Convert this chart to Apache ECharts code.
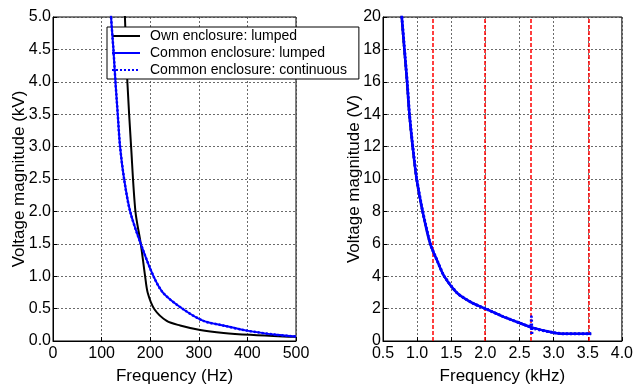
<!DOCTYPE html>
<html>
<head>
<meta charset="utf-8">
<script src="https://cdn.jsdelivr.net/npm/echarts@6/dist/echarts.min.js"></script>
<style>
  html, body { margin:0; padding:0; background:#fff; }
  #chart { width:636px; height:390px; }
</style>
</head>
<body>
<div id="chart"></div>
<script>
// ---- data ----
// left panel: frequency in Hz, voltage in kV
const ownFreq = [146, 148, 153, 160.7, 169.6, 180.6, 189.5, 195, 208.7, 234, 261.6, 302.8, 351, 406, 474, 500];
const ownVolt = [5.3, 5.0, 4.0, 3.0, 2.0, 1.5, 1.0, 0.74, 0.49, 0.31, 0.24, 0.17, 0.125, 0.095, 0.07, 0.065];
const comFreq = [118, 119.5, 124.3, 128.5, 133.2, 138, 146.3, 158.7, 180.6, 206.7, 227, 268, 309.6, 350, 398.8, 460, 500];
const comVolt = [5.3, 5.0, 4.5, 4.0, 3.5, 3.0, 2.5, 2.0, 1.5, 1.0, 0.74, 0.49, 0.31, 0.24, 0.16, 0.095, 0.07];

// right panel: frequency in kHz, voltage in V
const rOwnFreq = [0.755, 0.772, 0.81, 0.85, 0.884, 0.932, 0.99, 1.078, 1.19, 1.30, 1.396, 1.589, 1.807, 2.025, 2.243, 2.485, 2.678, 2.969, 3.163, 3.55];
const rOwnVolt = [21, 20, 18, 16, 14, 12, 10, 8, 6, 4.9, 4, 2.95, 2.35, 1.95, 1.54, 1.14, 0.84, 0.54, 0.44, 0.44];
const rComFreq = [0.76, 0.776, 0.815, 0.854, 0.888, 0.936, 0.994, 1.081, 1.193, 1.30, 1.396, 1.589, 1.807, 2.025, 2.243, 2.485, 2.678, 2.969, 3.163, 3.55];
const rComVolt = [21, 20, 18, 16, 14, 12, 10, 8, 6, 4.9, 4, 2.95, 2.35, 1.95, 1.54, 1.14, 0.84, 0.54, 0.44, 0.44];
const rContFreq = [0.76, 0.776, 0.815, 0.854, 0.888, 0.936, 0.994, 1.081, 1.193, 1.30, 1.396, 1.589, 1.807, 2.025, 2.243, 2.485, 2.66, 2.675, 2.68, 2.69, 2.72, 2.969, 3.163, 3.55];
const rContVolt = [21, 20, 18, 16, 14, 12, 10, 8, 6, 4.9, 4, 2.95, 2.35, 1.95, 1.54, 1.14, 0.88, 1.5, 0.38, 0.8, 0.76, 0.54, 0.44, 0.44];
const redLines = [1.23, 1.99, 2.67, 3.52];

const legendNames = ['Own enclosure: lumped', 'Common enclosure: lumped', 'Common enclosure: continuous'];

function zip(xs, ys){ return xs.map((x, i) => [x, ys[i]]); }

const FONT = '"Liberation Sans", Arial, sans-serif';
const gridLine = { show:true, lineStyle:{ color:'#444', type:[2,2], width:0.8 } };
const axisBase = {
  axisLine:{ show:true, onZero:false, lineStyle:{ color:'#000', width:1 } },
  axisTick:{ show:true, inside:true, length:4, lineStyle:{ color:'#000' } },
  axisLabel:{ color:'#000', fontSize:16, fontFamily:FONT, margin:5 },
  splitLine: gridLine,
  nameTextStyle:{ color:'#000', fontSize:17, fontFamily:FONT },
  nameLocation:'middle',
  nameMoveOverlap:false
};
function lbl(extra){ return Object.assign({}, axisBase.axisLabel, extra); }

const chart = echarts.init(document.getElementById('chart'), null, { renderer:'canvas' });

chart.setOption({
  animation:false,
  textStyle:{ fontFamily:FONT },
  grid:[
    { left:53, top:17, width:243, height:332, show:true, borderColor:'#000', borderWidth:1, backgroundColor:'transparent' },
    { left:383, top:17, width:241, height:332, show:true, borderColor:'#000', borderWidth:1, backgroundColor:'transparent' }
  ],
  legend:{
    data: legendNames,
    orient:'vertical', left:107, top:27,
    backgroundColor:'#fff', borderColor:'#000', borderWidth:1,
    padding:[2, 12, 2, 4],
    itemWidth:28, itemHeight:14, itemGap:3,
    itemStyle:{ opacity:0 },
    textStyle:{ color:'#000', fontSize:14, fontFamily:FONT, padding:[0,0,0,5] },
    selectedMode:false
  },
  xAxis:[
    Object.assign({}, axisBase, { gridIndex:0, type:'value', min:0, max:500, interval:100, name:'Frequency (Hz)', nameGap:27 }),
    Object.assign({}, axisBase, { gridIndex:1, type:'value', min:0.5, max:4.0, interval:0.5, name:'Frequency (kHz)', nameGap:27,
      axisLabel:lbl({ formatter:v => v.toFixed(1) }) })
  ],
  yAxis:[
    Object.assign({}, axisBase, { gridIndex:0, type:'value', min:0, max:5, interval:0.5, name:'Voltage magnitude (kV)', nameGap:25,
      axisLabel:lbl({ margin:2, formatter:v => v.toFixed(1) }) }),
    Object.assign({}, axisBase, { gridIndex:1, type:'value', min:0, max:20, interval:2, name:'Voltage magnitude (V)', nameGap:20,
      axisLabel:lbl({ margin:2 }) })
  ],
  series:[
    { name:legendNames[0], type:'line', xAxisIndex:0, yAxisIndex:0, data:zip(ownFreq, ownVolt),
      symbol:'none', smooth:0.3, clip:true, lineStyle:{ color:'#000', width:2 }, itemStyle:{ color:'#000' }, z:3 },
    { name:legendNames[1], type:'line', xAxisIndex:0, yAxisIndex:0, data:zip(comFreq, comVolt),
      symbol:'none', smooth:0.3, clip:true, lineStyle:{ color:'#0000ff', width:2 }, itemStyle:{ color:'#0000ff' }, z:4 },
    { name:legendNames[2], type:'line', xAxisIndex:0, yAxisIndex:0, data:zip(comFreq, comVolt),
      symbol:'none', smooth:0.3, clip:true, lineStyle:{ color:'#0000ff', width:2.5, type:[2,2] }, itemStyle:{ color:'#0000ff' }, z:5 },

    { name:legendNames[0], type:'line', xAxisIndex:1, yAxisIndex:1, data:zip(rOwnFreq, rOwnVolt),
      symbol:'none', smooth:0.3, clip:true, lineStyle:{ color:'#000', width:2 }, itemStyle:{ color:'#000' }, z:3 },
    { name:legendNames[1], type:'line', xAxisIndex:1, yAxisIndex:1, data:zip(rComFreq, rComVolt),
      symbol:'none', smooth:0.3, clip:true, lineStyle:{ color:'#0000ff', width:2.5 }, itemStyle:{ color:'#0000ff' }, z:4 },
    { name:legendNames[2], type:'line', xAxisIndex:1, yAxisIndex:1, data:zip(rContFreq, rContVolt),
      symbol:'none', smooth:0.2, clip:true, lineStyle:{ color:'#0000ff', width:3, type:[2,2] }, itemStyle:{ color:'#0000ff' }, z:5,
      markLine:{ silent:true, symbol:['none','none'], label:{ show:false }, z:2,
        itemStyle:{ color:'#ff0000' },
        lineStyle:{ color:'#ff0000', type:[4,2], width:1.5, opacity:1 },
        emphasis:{ disabled:true },
        data: redLines.map(x => ({ xAxis:x, lineStyle:{ color:'#ff0000', width:1.5 } })) } }
  ]
});
</script>
</body>
</html>
